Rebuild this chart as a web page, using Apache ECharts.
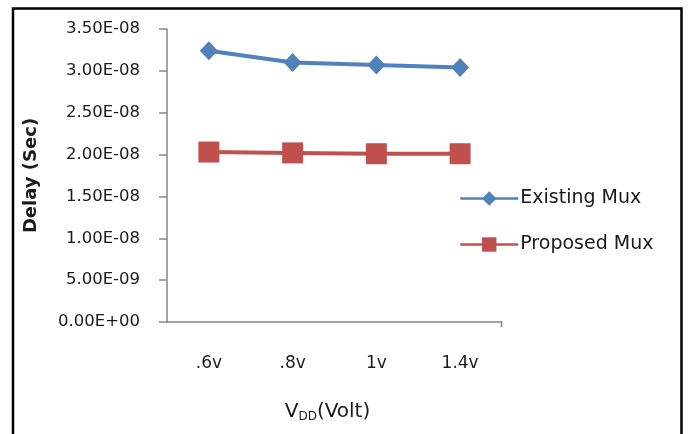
<!DOCTYPE html>
<html>
<head>
<meta charset="utf-8">
<script src="https://cdn.jsdelivr.net/npm/echarts@6/dist/echarts.min.js"></script>
<style>
html,body{margin:0;padding:0;background:#fff;}
#c{width:689px;height:434px;}
</style>
</head>
<body>
<div id="c"></div>
<script>
var categories = ['.6v', '.8v', '1v', '1.4v'];
var existingMux = [3.24e-8, 3.10e-8, 3.07e-8, 3.04e-8];
var proposedMux = [2.03e-8, 2.02e-8, 2.01e-8, 2.01e-8];
var yTickLabels = ['0.00E+00', '5.00E-09', '1.00E-08', '1.50E-08', '2.00E-08', '2.50E-08', '3.00E-08', '3.50E-08'];
var yStep = 5e-9;

var FONT = 'DejaVu Sans';
var chart = echarts.init(document.getElementById('c'), null, {renderer: 'canvas'});
chart.setOption({
  backgroundColor: '#ffffff',
  animation: false,
  graphic: [{
    type: 'rect',
    shape: {x: 13, y: 8.5, width: 668.5, height: 500},
    style: {fill: 'none', stroke: '#000', lineWidth: 2.5},
    silent: true,
    z: 100
  }, {
    type: 'line',
    shape: {x1: 501.5, y1: 322, x2: 501.5, y2: 327},
    style: {stroke: '#868686', lineWidth: 1.5},
    silent: true
  }],
  grid: {left: 167, right: 187, top: 29, bottom: 112},
  legend: {
    orient: 'vertical',
    left: 459,
    top: 189,
    padding: 0,
    itemWidth: 58,
    itemHeight: 18,
    itemGap: 27,
    lineStyle: {width: 2.5},
    textStyle: {fontFamily: FONT, fontSize: 19, color: '#1a1a1a', padding: [0, 0, 0, -3]},
    data: [
      {name: 'Existing Mux'},
      {name: 'Proposed Mux'}
    ]
  },
  xAxis: {
    type: 'category',
    data: categories,
    boundaryGap: true,
    axisLine: {lineStyle: {color: '#868686', width: 1.5}},
    axisTick: {alignWithLabel: true, length: 5, lineStyle: {color: '#868686', width: 1.5}},
    axisLabel: {fontFamily: FONT, fontSize: 17, color: '#1a1a1a', margin: 33},
    name: '{v|V}{s|DD}{v|(Volt)}',
    nameLocation: 'middle',
    nameGap: 79,
    nameTextStyle: {
      padding: [0, 14, 0, 0],
      rich: {
        v: {fontFamily: FONT, fontSize: 20, color: '#1a1a1a'},
        s: {fontFamily: FONT, fontSize: 12, color: '#1a1a1a', padding: [10, 0, 0, 0]}
      }
    },
    splitLine: {show: false}
  },
  yAxis: {
    type: 'value',
    min: 0,
    max: yStep * (yTickLabels.length - 1),
    interval: yStep,
    axisLine: {show: true, lineStyle: {color: '#868686', width: 1.5}},
    axisTick: {show: true, length: 8, lineStyle: {color: '#868686', width: 1.5}},
    axisLabel: {
      fontFamily: FONT, fontSize: 16.5, color: '#1a1a1a', margin: 27,
      formatter: function (v, i) { return yTickLabels[Math.round(v / yStep)]; }
    },
    splitLine: {show: false},
    name: 'Delay (Sec)',
    nameLocation: 'middle',
    nameGap: 127,
    nameRotate: 90,
    nameTextStyle: {fontFamily: FONT, fontSize: 18, fontWeight: 'bold', color: '#1a1a1a'}
  },
  series: [
    {
      name: 'Existing Mux',
      type: 'line',
      data: existingMux,
      symbol: 'diamond',
      symbolSize: [18, 19],
      lineStyle: {color: '#4F81BD', width: 4},
      itemStyle: {color: '#4F81BD'},
      z: 3
    },
    {
      name: 'Proposed Mux',
      type: 'line',
      data: proposedMux,
      symbol: 'rect',
      symbolSize: 21,
      lineStyle: {color: '#C0504D', width: 4},
      itemStyle: {color: '#C0504D'},
      z: 2
    }
  ]
});
</script>
</body>
</html>
